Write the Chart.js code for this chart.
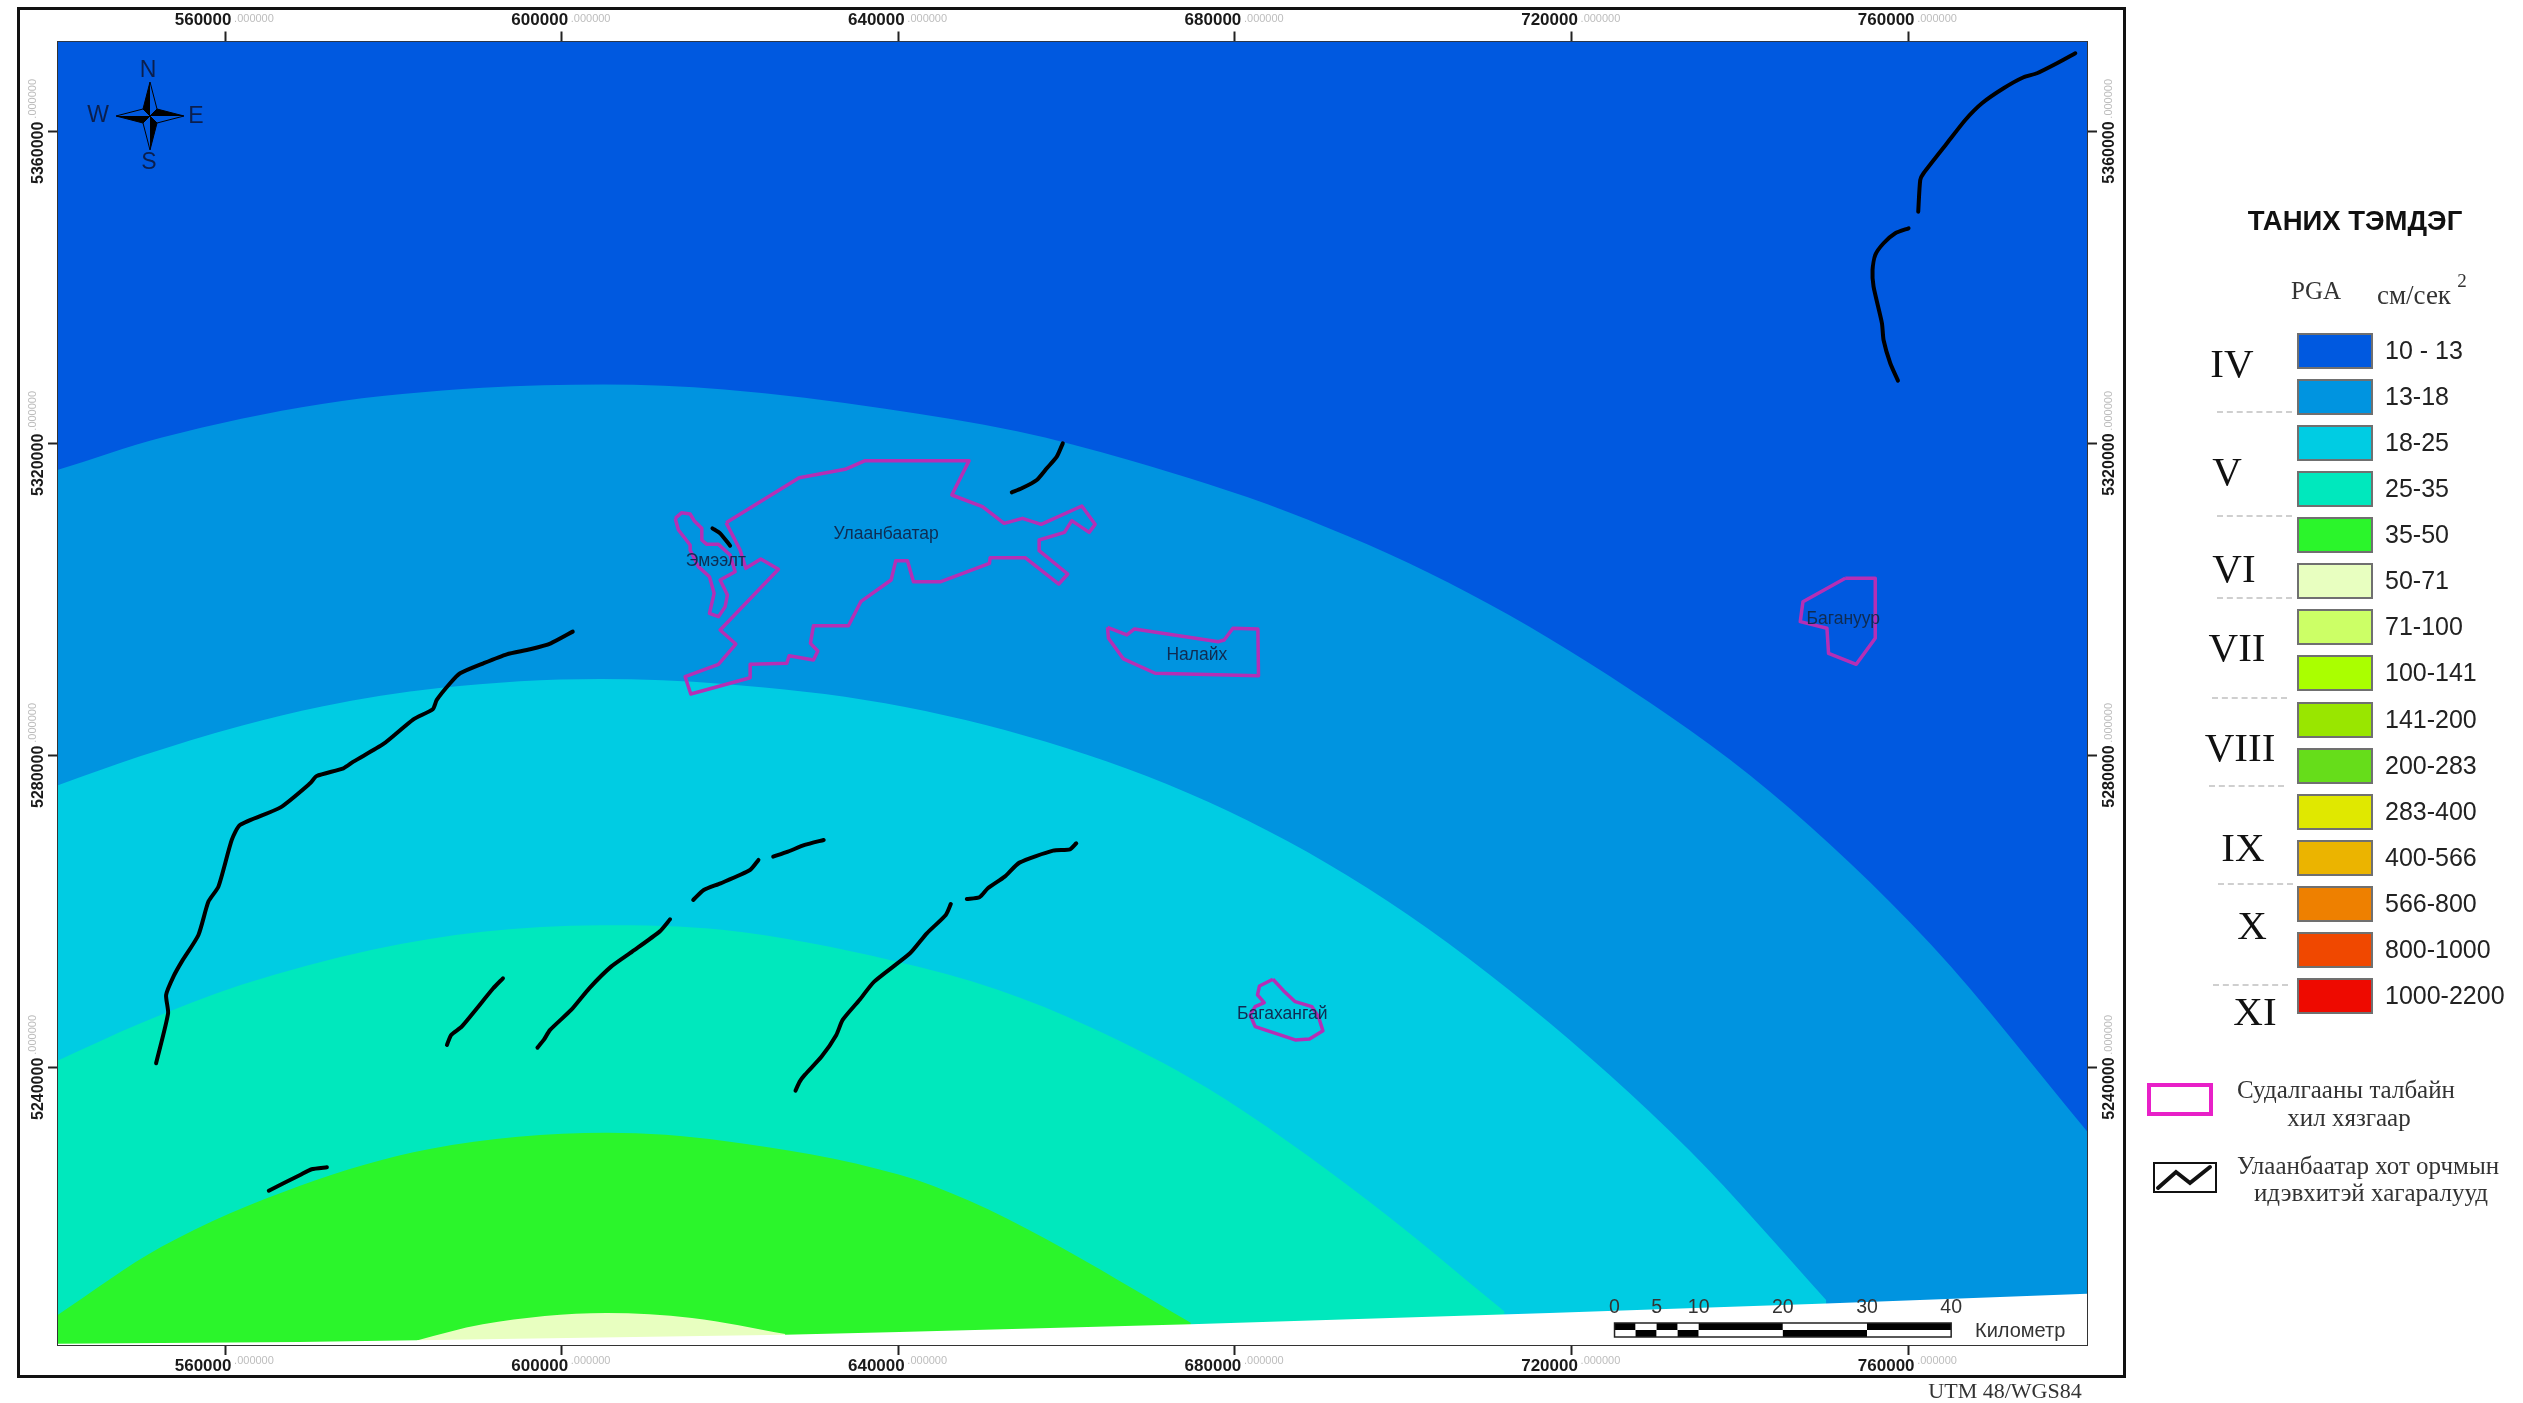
<!DOCTYPE html>
<html>
<head>
<meta charset="utf-8">
<title>PGA</title>
<script src="https://cdn.jsdelivr.net/npm/chart.js@4/dist/chart.umd.min.js"></script>
<style>
html, body { margin: 0; padding: 0; background: #fff; overflow: hidden; }
#page { position: relative; width: 2523px; height: 1403px; }
#map { position: absolute; left: 0; top: 0; }
#frame { position: absolute; left: 17px; top: 7px; width: 2103px; height: 1365px; border: 3px solid #111; pointer-events: none; }
.txt { position: absolute; white-space: nowrap; transform: translate(-50%, -50%); color: #222; }
.serif { font-family: "Liberation Serif", serif; }
.sans { font-family: "Liberation Sans", sans-serif; }
.swatch { position: absolute; left: 2297px; width: 72px; height: 32px; border: 2px solid #707070; }
.dash { position: absolute; border-top: 2px dashed #cfcfcf; height: 0; }
</style>
</head>
<body>
<div id="page">
    <canvas id="map" width="2523" height="1403"></canvas>
    <div id="frame"></div>
</div>
<script>
// =========================
// DATA (UTM 48 metres)
// =========================

const xTicks = [560000, 600000, 640000, 680000, 720000, 760000];
const yTicks = [5240000, 5280000, 5320000, 5360000];
const tickSuffix = ".000000";

// band edges
const edgeTop = [[540144, 5371560], [781247, 5371560]];
const edge13 = [[540144, 5316644], [552381, 5320770], [571501, 5325103], [590621, 5327166], [604961, 5327578], [619301, 5326959], [638421, 5324484], [654099, 5321596], [667483, 5317882], [686221, 5311281], [705341, 5302203], [724461, 5290238], [743581, 5275384], [762701, 5255786], [781247, 5231855]];
const edge18 = [[540144, 5276210], [549895, 5279923], [561941, 5283843], [571501, 5286318], [585458, 5288670], [604579, 5289825], [619301, 5289206], [638421, 5286731], [657541, 5281780], [676661, 5274147], [695781, 5263006], [714901, 5247946], [734021, 5229379], [750273, 5210194]];
const edge25 = [[540144, 5240932], [549895, 5245677], [561941, 5250628], [577619, 5255167], [590621, 5257436], [604579, 5258261], [619301, 5257643], [639377, 5253723], [651805, 5250009], [662703, 5245265], [676661, 5237425], [695781, 5222984], [712033, 5208749]];
const edge35 = [[540144, 5208337], [552381, 5217001], [568824, 5224841], [584311, 5229586], [605343, 5231649], [619301, 5230617], [640142, 5226285], [648363, 5222984], [657541, 5218033], [674749, 5207305]];
const edge50 = [[582782, 5205036], [590621, 5207099], [605343, 5208543], [615477, 5207924], [626567, 5205861]];
const edgeNoData = [[540144, 5204623], [568824, 5204830], [626567, 5205755], [640142, 5206127], [674749, 5207099], [717386, 5208543], [750273, 5209781], [781247, 5211019]];

// study area outlines
const ulaanbaatar = [[619536, 5309874], [628211, 5315644], [633677, 5316713], [636053, 5317824], [648412, 5317824], [646352, 5313422], [649996, 5311926], [652571, 5309789], [654749, 5310430], [656968, 5309661], [661800, 5312011], [663384, 5309661], [662671, 5308635], [660612, 5310131], [659740, 5308635], [656730, 5307652], [656730, 5306284], [660136, 5303292], [659067, 5302010], [655066, 5305387], [650907, 5305387], [650828, 5304660], [645045, 5302309], [641797, 5302309], [641084, 5305002], [639698, 5305002], [639143, 5302523], [635539, 5299745], [634073, 5296668], [629914, 5296668], [629557, 5294402], [630429, 5293419], [629914, 5292265], [627022, 5292821], [626745, 5291838], [622388, 5291710], [622388, 5290000], [615337, 5287906], [614664, 5290128], [618625, 5291710], [620685, 5294317], [618823, 5296112], [625755, 5303891], [623656, 5305216], [621873, 5304019], [621200, 5306370], [619536, 5309874]];
const emeelt = [[613476, 5310430], [614268, 5311156], [615258, 5310986], [615734, 5310131], [616645, 5309148], [616645, 5307652], [617239, 5307096], [618625, 5307096], [620011, 5305728], [620606, 5303591], [618823, 5302523], [619695, 5300600], [619417, 5299104], [618625, 5297822], [617556, 5298249], [618110, 5300813], [617556, 5302950], [616248, 5304233], [615258, 5306370], [615258, 5307011], [613872, 5308934], [613476, 5310430]];
const nalaikh = [[664852, 5296464], [667158, 5295477], [668062, 5296246], [678044, 5294618], [678721, 5294836], [679755, 5296336], [682726, 5296246], [682797, 5290259], [670521, 5290567], [666754, 5292400], [664971, 5295054], [664852, 5296464]];
const baganuur = [[752521, 5302746], [756086, 5302746], [756086, 5295054], [753828, 5291721], [750536, 5293131], [750346, 5296336], [747173, 5297182], [747494, 5299746], [752521, 5302746]];
const bagakhangai = [[684509, 5251338], [682916, 5250479], [682679, 5249325], [683475, 5248338], [682405, 5247825], [681811, 5246761], [682405, 5245261], [687159, 5243556], [688860, 5243684], [690449, 5244748], [689928, 5246543], [689143, 5247825], [687159, 5248466], [685768, 5249876], [684509, 5251338]];

// active faults
const faultNorthA = [[779854, 5370051], [777679, 5368769], [775302, 5367487], [773710, 5366974], [771333, 5365564], [768766, 5363641], [766782, 5361500], [764607, 5358513], [761826, 5354667], [761431, 5353808], [761192, 5349744]];
const faultNorthB = [[760045, 5347616], [758463, 5346975], [757072, 5345693], [756086, 5344193], [755765, 5342270], [755884, 5340129], [756882, 5335437], [757072, 5333296], [757869, 5330309], [758784, 5328078]];
const faultCity = [[659542, 5320046], [658829, 5318337], [657641, 5316841], [656453, 5315345], [654670, 5314276], [653482, 5313764]];
const faultEmeelt = [[617912, 5309148], [618823, 5308507], [620011, 5306925]];
const faultLong = [[601313, 5295904], [598699, 5294409], [596243, 5293640], [593470, 5292999], [590697, 5291845], [587925, 5290563], [586736, 5289281], [585152, 5287145], [584677, 5285948], [582379, 5284666], [578814, 5281504], [575249, 5279240], [574061, 5278385], [570892, 5277402], [570100, 5276462], [566535, 5273343], [561782, 5271121], [560792, 5269198], [559207, 5263216], [558019, 5261293], [556831, 5257020], [554850, 5253602], [553860, 5251679], [552989, 5249329], [553226, 5246979], [551800, 5240569]];
const faultA = [[593015, 5251463], [591865, 5250181], [588114, 5245267], [586863, 5244199], [586363, 5242917]];
const faultB = [[612873, 5259026], [611623, 5257445], [608372, 5254882], [605871, 5252959], [603270, 5250181], [601119, 5247404], [598618, 5244840], [597867, 5243558], [597117, 5242575]];
const faultC = [[623378, 5266632], [622377, 5265350], [618876, 5263641], [616875, 5262787], [615625, 5261505]];
const faultD = [[631131, 5269196], [628880, 5268555], [626879, 5267701], [625128, 5267060]];
const faultE = [[646237, 5260992], [645637, 5259582], [643386, 5257232], [641385, 5254668], [637133, 5251036], [635382, 5248686], [633382, 5246122], [632631, 5244199], [630881, 5241422], [628880, 5239072], [628280, 5238217], [627779, 5237063]];
const faultF = [[661143, 5268769], [660392, 5268000], [658392, 5267829], [654390, 5266291], [652639, 5264496], [650639, 5263000], [649638, 5261847], [648138, 5261633]];
const faultSouth = [[565193, 5224236], [568913, 5226249], [570280, 5226980], [572098, 5227236]];

// place names
const placeNames = ["Улаанбаатар", "Эмээлт", "Налайх", "Багануур", "Багахангай"];
const placeX = [638553, 618315, 675477, 752283, 685614];
const placeY = [5308425, 5304964, 5292823, 5297528, 5246889];

// scale bar
const scaleStart = 725104;
const scaleKm = [0, 5, 10, 20, 30, 40];
const scaleCuts = [0, 2.5, 5, 7.5, 10, 20, 30, 40];

// legend
const legendRanges = ["10 - 13", "13-18", "18-25", "25-35", "35-50", "50-71", "71-100", "100-141", "141-200", "200-283", "283-400", "400-566", "566-800", "800-1000", "1000-2200"];
const legendColors = ["#0059e0", "#0094e0", "#00cce3", "#00e8bd", "#2bf52b", "#e8ffc0", "#ccff66", "#aaff00", "#99e600", "#66dd1a", "#e0e800", "#ebb400", "#ee8000", "#f04800", "#ee0a00"];
const romanLabels = ["IV", "V", "VI", "VII", "VIII", "IX", "X", "XI"];
const romanLeft = [2232, 2227, 2234, 2237, 2240, 2243, 2252, 2255];
const romanTop = [363, 471, 568, 647, 747, 847, 925, 1011];
const dashTop = [411, 515, 597, 697, 785, 883, 984];
const dashLeft = [2217, 2217, 2217, 2212, 2209, 2218, 2213];

// =========================
// CHART
// =========================

const xMin = 540144, xMax = 781247;
const yMin = 5204450, yMax = 5371560;

function bandSet(points, color) {
    return {
        data: points,
        showLine: true,
        pointRadius: 0,
        borderWidth: 0,
        borderColor: "transparent",
        backgroundColor: color,
        cubicInterpolationMode: "monotone",
        fill: "start"
    };
}

function outlineSet(points) {
    return {
        data: points,
        showLine: true,
        pointRadius: 0,
        borderWidth: 3.5,
        borderColor: "#b52fb5",
        borderJoinStyle: "round",
        fill: false,
        tension: 0
    };
}

function faultSet(points) {
    return {
        data: points,
        showLine: true,
        pointRadius: 0,
        borderWidth: 4,
        borderColor: "#000",
        borderCapStyle: "round",
        borderJoinStyle: "round",
        fill: false,
        tension: 0.2
    };
}

// chart.js paints the first dataset last, so the top layers come first
const noData = bandSet(edgeNoData, "#fff");
noData.cubicInterpolationMode = "default";
noData.tension = 0;

const datasets = [
    faultNorthA, faultNorthB, faultCity, faultEmeelt, faultLong, faultA, faultB, faultC, faultD, faultE, faultF, faultSouth
].map(faultSet).concat(
    [ulaanbaatar, emeelt, nalaikh, baganuur, bagakhangai].map(outlineSet),
    [
        noData,
        bandSet(edge50, legendColors[5]),
        bandSet(edge35, legendColors[4]),
        bandSet(edge25, legendColors[3]),
        bandSet(edge18, legendColors[2]),
        bandSet(edge13, legendColors[1]),
        bandSet(edgeTop, legendColors[0])
    ]
);

function axisBase(ticksList, size, extra) {
    return Object.assign({
        type: "linear",
        offset: false,
        afterBuildTicks: s => { s.ticks = ticksList.map(v => ({ value: v })); },
        afterFit: s => {
            if (s.isHorizontal()) { s.height = size; } else { s.width = size; }
        },
        border: { display: true, color: "#333", width: 2 },
        grid: { drawOnChartArea: false, drawTicks: true, tickLength: 10, tickColor: "#222", tickWidth: 2 }
    }, extra);
}

function xTickOpts() {
    return {
        autoSkip: false, maxRotation: 0, minRotation: 0, padding: 1, labelOffset: -22,
        color: "#1a1a1a", font: { family: "Liberation Sans", size: 17, weight: "bold" },
        callback: v => String(v)
    };
}

function yTickOpts(offset, pad) {
    return {
        autoSkip: false, maxRotation: 90, minRotation: 90, padding: pad, labelOffset: offset,
        color: "#1a1a1a", font: { family: "Liberation Sans", size: 16, weight: "bold" },
        callback: v => String(v)
    };
}

// compass, grey tick suffixes, place names and the scale bar
const mapExtras = {
    id: "mapExtras",
    afterDraw(chart) {
        const ctx = chart.ctx;
        const sx = chart.scales.x;
        const sy = chart.scales.y;

        ctx.save();

        // grey .000000 after every tick label
        ctx.fillStyle = "#bdbdbd";
        ctx.font = "11px 'Liberation Sans'";
        ctx.textBaseline = "middle";
        ctx.textAlign = "left";
        xTicks.forEach(v => {
            const px = sx.getPixelForValue(v);
            ctx.fillText(tickSuffix, px + 9, 18.5);
            ctx.fillText(tickSuffix, px + 9, 1361);
        });
        yTicks.forEach(v => {
            const py = sy.getPixelForValue(v);
            [33, 2109].forEach(x => {
                ctx.save();
                ctx.translate(x, py - 13);
                ctx.rotate(-Math.PI / 2);
                ctx.fillText(tickSuffix, 0, 0);
                ctx.restore();
            });
        });

        // place names
        ctx.fillStyle = "#0f2c52";
        ctx.font = "17.5px 'Liberation Sans'";
        ctx.textAlign = "center";
        placeNames.forEach((name, i) => {
            ctx.fillText(name, sx.getPixelForValue(placeX[i]), sy.getPixelForValue(placeY[i]));
        });

        // compass
        const cx = 150, cy = 116;
        const arm = 34, waist = 7;
        ctx.strokeStyle = "#000";
        ctx.lineWidth = 1;
        for (let i = 0; i < 4; i++) {
            ctx.save();
            ctx.translate(cx, cy);
            ctx.rotate(i * Math.PI / 2);
            ctx.beginPath();
            ctx.moveTo(0, -arm);
            ctx.lineTo(waist, -waist);
            ctx.lineTo(0, 0);
            ctx.lineTo(-waist, -waist);
            ctx.closePath();
            ctx.stroke();
            ctx.beginPath();
            ctx.moveTo(0, -arm);
            ctx.lineTo(0, 0);
            ctx.lineTo(-waist, -waist);
            ctx.closePath();
            ctx.fillStyle = "#000";
            ctx.fill();
            ctx.restore();
        }
        ctx.fillStyle = "#0b1f4d";
        ctx.font = "23px 'Liberation Sans'";
        ctx.fillText("N", 148, 71);
        ctx.fillText("S", 149, 163);
        ctx.fillText("W", 98, 116);
        ctx.fillText("E", 196, 117);

        // scale bar, the two rows swap black and white
        const barTop = 1323, barMid = 1330, barBottom = 1337;
        for (let i = 0; i < scaleCuts.length - 1; i++) {
            const a = sx.getPixelForValue(scaleStart + scaleCuts[i] * 1000);
            const b = sx.getPixelForValue(scaleStart + scaleCuts[i + 1] * 1000);
            ctx.fillStyle = i % 2 === 0 ? "#000" : "#fff";
            ctx.fillRect(a, barTop, b - a, barMid - barTop);
            ctx.fillStyle = i % 2 === 0 ? "#fff" : "#000";
            ctx.fillRect(a, barMid, b - a, barBottom - barMid);
        }
        const x0 = sx.getPixelForValue(scaleStart);
        const x1 = sx.getPixelForValue(scaleStart + 40000);
        ctx.strokeStyle = "#222";
        ctx.lineWidth = 1.5;
        ctx.strokeRect(x0, barTop, x1 - x0, barBottom - barTop);
        ctx.fillStyle = "#333";
        ctx.font = "19.5px 'Liberation Sans'";
        scaleKm.forEach(km => {
            ctx.fillText(String(km), sx.getPixelForValue(scaleStart + km * 1000), 1308);
        });
        ctx.textAlign = "left";
        ctx.font = "20px 'Liberation Sans'";
        ctx.fillText("Километр", 1975, 1331);

        ctx.restore();
    }
};

new Chart(document.getElementById("map"), {
    type: "scatter",
    data: { datasets: datasets },
    plugins: [mapExtras],
    options: {
        responsive: false,
        animation: false,
        devicePixelRatio: 1,
        layout: {
            autoPadding: false,
            padding: { left: 18, top: 9, right: 398, bottom: 28 }
        },
        plugins: { legend: { display: false }, tooltip: { enabled: false } },
        scales: {
            x: axisBase(xTicks, 30, { position: "bottom", min: xMin, max: xMax, ticks: xTickOpts() }),
            xTop: axisBase(xTicks, 32.5, { position: "top", min: xMin, max: xMax, ticks: xTickOpts() }),
            y: axisBase(yTicks, 40, { position: "left", min: yMin, max: yMax, ticks: yTickOpts(-10, 9) }),
            yRight: axisBase(yTicks, 38, { position: "right", min: yMin, max: yMax, ticks: yTickOpts(52, 13) })
        }
    }
});

// =========================
// LEGEND
// =========================

const page = document.getElementById("page");

function addText(text, x, y, cls, size, extra) {
    const el = document.createElement("div");
    el.className = "txt " + cls;
    el.textContent = text;
    el.style.left = x + "px";
    el.style.top = y + "px";
    el.style.fontSize = size + "px";
    if (extra) Object.assign(el.style, extra);
    page.appendChild(el);
    return el;
}

addText("ТАНИХ ТЭМДЭГ", 2355, 221, "sans", 27.5, { fontWeight: "bold", color: "#111" });
addText("PGA", 2316, 291, "serif", 25, { color: "#333" });
addText("см/сек", 2414, 295, "serif", 27, { color: "#333" });
addText("2", 2462, 281, "serif", 19, { color: "#333" });

legendRanges.forEach((label, i) => {
    const top = 332.7 + 46.1 * i;
    const box = document.createElement("div");
    box.className = "swatch";
    box.style.top = top + "px";
    box.style.background = legendColors[i];
    page.appendChild(box);
    const el = addText(label, 2385, top + 17, "sans", 25, { color: "#222" });
    el.style.transform = "translate(0, -50%)";
});

romanLabels.forEach((label, i) => {
    addText(label, romanLeft[i], romanTop[i], "serif", 41, { color: "#111" });
});

dashTop.forEach((top, i) => {
    const d = document.createElement("div");
    d.className = "dash";
    d.style.top = top + "px";
    d.style.left = dashLeft[i] + "px";
    d.style.width = "75px";
    page.appendChild(d);
});

const areaKey = document.createElement("div");
Object.assign(areaKey.style, { position: "absolute", left: "2147px", top: "1083px", width: "58px", height: "25px", border: "4px solid #e820c8" });
page.appendChild(areaKey);

const faultKey = document.createElement("div");
faultKey.style.cssText = "position:absolute;left:2153px;top:1162px;width:60px;height:27px;border:2.5px solid #111;";
faultKey.innerHTML = '<svg width="60" height="27"><polyline points="3,24 21,8 35,19 55,3" fill="none" stroke="#111" stroke-width="4" stroke-linecap="round"/></svg>';
page.appendChild(faultKey);

addText("Судалгааны талбайн", 2346, 1090, "serif", 25, { color: "#333" });
addText("хил хязгаар", 2349, 1118, "serif", 25, { color: "#333" });
addText("Улаанбаатар хот орчмын", 2368, 1166, "serif", 25, { color: "#333" });
addText("идэвхитэй хагаралууд", 2371, 1193, "serif", 25, { color: "#333" });
addText("UTM 48/WGS84", 2005, 1391, "serif", 22, { color: "#333" });
</script>
</body>
</html>
